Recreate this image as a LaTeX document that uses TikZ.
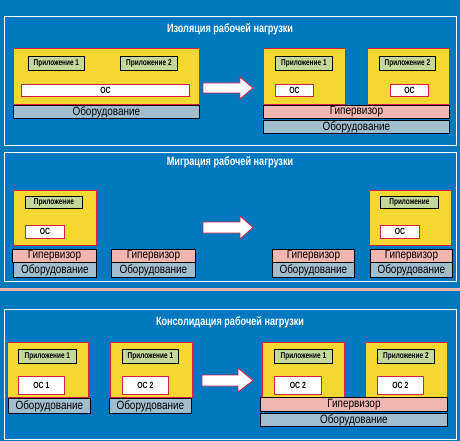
\documentclass[tikz,border=0pt]{standalone}
\usepackage{fontspec}
\setmainfont[FakeStretch=0.83]{Liberation Sans}
\newfontfamily\narrowfont[FakeStretch=0.76]{Liberation Sans}
\usepackage{tikz}
\definecolor{bgblue}{RGB}{0,120,192}
\definecolor{vmyellow}{RGB}{245,215,50}
\definecolor{vmred}{RGB}{214,30,72}
\definecolor{appgreen}{RGB}{196,216,156}
\definecolor{hyppink}{RGB}{242,182,176}
\definecolor{hwgray}{RGB}{160,190,206}
\tikzstyle{box}=[anchor=north west, inner sep=0pt, line width=0.8pt]
\tikzstyle{panel}=[draw=white, line width=0.8pt]
\tikzstyle{ptitle}=[text=white, font=\narrowfont\fontsize{12}{13}\selectfont\bfseries]
\tikzstyle{vm}=[box, draw=vmred, fill=vmyellow]
\tikzstyle{app}=[box, draw=black, fill=appgreen, font=\narrowfont\fontsize{8.5}{9}\selectfont\bfseries]
\tikzstyle{os}=[box, draw=vmred, fill=white, font=\narrowfont\fontsize{9}{10}\selectfont\bfseries]
\tikzstyle{hyp}=[box, draw=black, fill=hyppink, font=\fontsize{12}{13}\selectfont]
\tikzstyle{hw}=[box, draw=black, fill=hwgray, font=\fontsize{12}{13}\selectfont]
\tikzstyle{movearrow}=[draw=vmred, fill=white, line width=0.8pt, line join=miter]

\begin{document}
\begin{tikzpicture}[x=1pt, y=-1pt]
                    \fill[bgblue] (0,0) rectangle (460,441);
                    \useasboundingbox (0,0) rectangle (460,441);
                    % isolation
                    \draw[panel] (4,16) rectangle (456,145);
                    \node[ptitle] (t1) at (230,29) {Изоляция рабочей нагрузки};
                    \node[vm, minimum width=186pt, minimum height=56pt] (i1vm) at (13,48) {};
                    \node[app, minimum width=56pt, minimum height=14pt] (i1a1) at (28,56) {Приложение 1};
                    \node[app, minimum width=57pt, minimum height=14pt] (i1a2) at (120,56) {Приложение 2};
                    \node[os, minimum width=168pt, minimum height=12pt] (i1os) at (21,84) {ОС};
                    \node[hw, minimum width=186pt, minimum height=13pt] (i1hw) at (13,105) {Оборудование};
                    \draw[movearrow] (203,83) -- (240,83) -- (240,77) -- (253,88) -- (240,99) -- (240,93) -- (203,93) -- cycle;
                    \node[vm, minimum width=82pt, minimum height=56pt] (i2vm1) at (263,48) {};
                    \node[app, minimum width=57pt, minimum height=14pt] (i2a1) at (275,56) {Приложение 1};
                    \node[os, minimum width=38pt, minimum height=12pt] (i2os1) at (275,84) {ОС};
                    \node[vm, minimum width=82pt, minimum height=56pt] (i2vm2) at (367,48) {};
                    \node[app, minimum width=56pt, minimum height=14pt] (i2a2) at (379,56) {Приложение 2};
                    \node[os, minimum width=38pt, minimum height=12pt] (i2os2) at (390,84) {ОС};
                    \node[hyp, minimum width=186pt, minimum height=13pt] (i2hyp) at (263,105) {Гипервизор};
                    \node[hw, minimum width=186pt, minimum height=13pt] (i2hw) at (263,120) {Оборудование};
                    % migration
                    \draw[panel] (4,152) rectangle (456,281);
                    \node[ptitle] (t2) at (230,162) {Миграция рабочей нагрузки};
                    \node[vm, minimum width=83pt, minimum height=55pt] (m1vm) at (13,190) {};
                    \node[app, minimum width=57pt, minimum height=12pt] (m1a) at (25,196) {Приложение};
                    \node[os, minimum width=39pt, minimum height=13pt] (m1os) at (25,225) {ОС};
                    \node[hyp, minimum width=84pt, minimum height=13pt] (m1hyp) at (12,249) {Гипервизор};
                    \node[hw, minimum width=83pt, minimum height=15pt] (m1hw) at (13,262) {Оборудование};
                    \node[hyp, minimum width=84pt, minimum height=13pt] (m2hyp) at (111,249) {Гипервизор};
                    \node[hw, minimum width=84pt, minimum height=15pt] (m2hw) at (111,262) {Оборудование};
                    \draw[movearrow] (203,222) -- (240,222) -- (240,216) -- (253,227.5) -- (240,239) -- (240,233) -- (203,233) -- cycle;
                    \node[hyp, minimum width=82pt, minimum height=13pt] (m3hyp) at (272,249) {Гипервизор};
                    \node[hw, minimum width=82pt, minimum height=15pt] (m3hw) at (272,262) {Оборудование};
                    \node[vm, minimum width=82pt, minimum height=55pt] (m4vm) at (369,190) {};
                    \node[app, minimum width=58pt, minimum height=12pt] (m4a) at (380,196) {Приложение};
                    \node[os, minimum width=39pt, minimum height=13pt] (m4os) at (380,225) {ОС};
                    \node[hyp, minimum width=82pt, minimum height=13pt] (m4hyp) at (370,249) {Гипервизор};
                    \node[hw, minimum width=82pt, minimum height=15pt] (m4hw) at (370,262) {Оборудование};
                    \draw[hyppink, line width=3pt] (0,289.5) -- (460,289.5);
                    % consolidation
                    \draw[panel] (4,309) rectangle (456,439);
                    \node[ptitle] (t3) at (230,322) {Консолидация рабочей нагрузки};
                    \node[vm, minimum width=81pt, minimum height=55pt] (c1vm) at (7,342) {};
                    \node[app, minimum width=58pt, minimum height=14pt] (c1a) at (18,349) {Приложение 1};
                    \node[os, minimum width=46pt, minimum height=18pt] (c1os) at (18,376) {ОС 1};
                    \node[hw, minimum width=82pt, minimum height=15pt] (c1hw) at (8,398) {Оборудование};
                    \node[vm, minimum width=82pt, minimum height=55pt] (c2vm) at (110,342) {};
                    \node[app, minimum width=56pt, minimum height=14pt] (c2a) at (122,349) {Приложение 1};
                    \node[os, minimum width=46pt, minimum height=18pt] (c2os) at (122,376) {ОС 2};
                    \node[hw, minimum width=82pt, minimum height=15pt] (c2hw) at (109,398) {Оборудование};
                    \draw[movearrow] (202,375) -- (238,375) -- (238,368) -- (253,380.5) -- (238,392) -- (238,386) -- (202,386) -- cycle;
                    \node[vm, minimum width=82pt, minimum height=55pt] (c3vm) at (262,342) {};
                    \node[app, minimum width=58pt, minimum height=14pt] (c3a) at (274,349) {Приложение 1};
                    \node[os, minimum width=47pt, minimum height=18pt] (c3os) at (274,376) {ОС 2};
                    \node[vm, minimum width=82pt, minimum height=55pt] (c4vm) at (365,342) {};
                    \node[app, minimum width=57pt, minimum height=14pt] (c4a) at (377,349) {Приложение 2};
                    \node[os, minimum width=46pt, minimum height=18pt] (c4os) at (377,376) {ОС 2};
                    \node[hyp, minimum width=187pt, minimum height=14pt] (c4hyp) at (260,397) {Гипервизор};
                    \node[hw, minimum width=187pt, minimum height=13pt] (c4hw) at (260,413) {Оборудование};
                \end{tikzpicture}
\end{document}
